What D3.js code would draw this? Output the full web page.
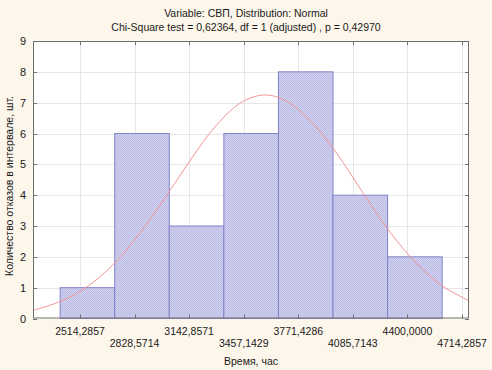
<!DOCTYPE html>
<html>
<head>
<meta charset="utf-8">
<script src="https://cdn.jsdelivr.net/npm/d3@7"></script>
<style>
  body { margin: 0; background: #fdf6ea; }
  text { font-family: "Liberation Sans", Arial, sans-serif; fill: #1a1a1a; }
</style>
</head>
<body>
<div id="chart"></div>
<script>
// Histogram data: lower bin edges and counts
var binLower = [2400, 2714.2857, 3028.5714, 3342.8571, 3657.1429, 3971.4286, 4285.7143];
var binWidth = 314.2857;
var counts = [1, 6, 3, 6, 8, 4, 2];

// x tick values and labels
var xTicks = [2514.2857, 2828.5714, 3142.8571, 3457.1429, 3771.4286, 4085.7143, 4400.0, 4714.2857];
var xTickLabels = ["2514,2857", "2828,5714", "3142,8571", "3457,1429", "3771,4286", "4085,7143", "4400,0000", "4714,2857"];
var yTicks = [0, 1, 2, 3, 4, 5, 6, 7, 8, 9];

// expected normal curve
var curveX = [2240, 2400, 2550, 2700, 2850, 3000, 3150, 3300, 3450, 3580, 3700, 3850, 4000, 4150, 4300, 4450, 4600, 4760];
var curveY = [0.26, 0.55, 1.01, 1.72, 2.70, 3.88, 5.14, 6.27, 7.03, 7.25, 7.06, 6.36, 5.30, 4.02, 2.80, 1.80, 1.06, 0.56];

var w = 492;
var h = 370;
var pLeft = 33, pRight = 469, pTop = 41, pBottom = 318.5;

var svg = d3.select("#chart").append("svg").attr("width", w).attr("height", h);

svg.append("rect").attr("width", w).attr("height", h).attr("fill", "#fdf6ea");

var defs = svg.append("defs");
var pat = defs.append("pattern")
  .attr("id", "hatch")
  .attr("patternUnits", "userSpaceOnUse")
  .attr("width", 2)
  .attr("height", 2);
pat.append("rect").attr("width", 2).attr("height", 2).attr("fill", "#d0d0ef");
pat.append("rect").attr("width", 1).attr("height", 1).attr("fill", "#bcbce4");
pat.append("rect").attr("x", 1).attr("y", 1).attr("width", 1).attr("height", 1).attr("fill", "#bcbce4");

defs.append("clipPath").attr("id", "clip")
  .append("rect").attr("x", pLeft).attr("y", pTop)
  .attr("width", pRight - pLeft).attr("height", pBottom - pTop);

var xScale = d3.scaleLinear()
  .domain([2514.2857 - 47 * 2200 / 382, 4714.2857 + 7 * 2200 / 382])
  .range([pLeft, pRight]);

var yScale = d3.scaleLinear().domain([0, 9]).range([pBottom, pTop]);

// plot background
svg.append("rect")
  .attr("x", pLeft).attr("y", pTop)
  .attr("width", pRight - pLeft).attr("height", pBottom - pTop)
  .attr("fill", "#ffffff");

// gridlines
svg.append("g").selectAll("line").data(yTicks.slice(1, -1)).enter().append("line")
  .attr("x1", pLeft).attr("x2", pRight)
  .attr("y1", function (d) { return Math.round(yScale(d)) + 0.5; })
  .attr("y2", function (d) { return Math.round(yScale(d)) + 0.5; })
  .attr("stroke", "#e6e6e6");

svg.append("g").selectAll("line").data(xTicks).enter().append("line")
  .attr("x1", function (d) { return Math.round(xScale(d)) + 0.5; })
  .attr("x2", function (d) { return Math.round(xScale(d)) + 0.5; })
  .attr("y1", pTop).attr("y2", pBottom)
  .attr("stroke", "#e6e6e6");

// bars
svg.append("g").selectAll("rect").data(counts).enter().append("rect")
  .attr("x", function (d, i) { return xScale(binLower[i]); })
  .attr("y", function (d) { return yScale(d); })
  .attr("width", function (d, i) { return xScale(binLower[i] + binWidth) - xScale(binLower[i]); })
  .attr("height", function (d) { return pBottom - yScale(d); })
  .attr("fill", "url(#hatch)")
  .attr("stroke", "#8282c8")
  .attr("stroke-width", 1);

// normal curve
var line = d3.line()
  .x(function (d, i) { return xScale(curveX[i]); })
  .y(function (d) { return yScale(d); })
  .curve(d3.curveCatmullRom);

svg.append("path")
  .datum(curveY)
  .attr("clip-path", "url(#clip)")
  .attr("d", line)
  .attr("fill", "none")
  .attr("stroke", "#f39494")
  .attr("stroke-width", 1);

// frame
svg.append("rect")
  .attr("x", pLeft + 0.5).attr("y", pTop + 0.5)
  .attr("width", pRight - pLeft - 1).attr("height", pBottom - pTop - 1)
  .attr("fill", "none")
  .attr("stroke", "#707070");

// inner ticks
var tick = svg.append("g").attr("stroke", "#707070");
yTicks.forEach(function (d) {
  var y = Math.round(yScale(d)) + 0.5;
  tick.append("line").attr("x1", pLeft).attr("x2", pLeft + 4).attr("y1", y).attr("y2", y);
  tick.append("line").attr("x1", pRight - 4).attr("x2", pRight).attr("y1", y).attr("y2", y);
});
xTicks.forEach(function (d) {
  var x = Math.round(xScale(d)) + 0.5;
  tick.append("line").attr("x1", x).attr("x2", x).attr("y1", pTop).attr("y2", pTop + 4);
  tick.append("line").attr("x1", x).attr("x2", x).attr("y1", pBottom - 4).attr("y2", pBottom);
});

// y tick labels
svg.append("g").selectAll("text").data(yTicks).enter().append("text")
  .attr("x", pLeft - 7)
  .attr("y", function (d) { return yScale(d) + 4; })
  .attr("text-anchor", "end")
  .style("font-size", "11px")
  .text(function (d) { return d; });

// x tick labels, staggered
svg.append("g").selectAll("text").data(xTicks).enter().append("text")
  .attr("x", function (d) { return xScale(d); })
  .attr("y", function (d, i) { return i % 2 === 0 ? 335 : 347; })
  .attr("text-anchor", "middle")
  .style("font-size", "10.5px")
  .text(function (d, i) { return xTickLabels[i]; });

// axis titles
svg.append("text")
  .attr("x", (pLeft + pRight) / 2)
  .attr("y", 365)
  .attr("text-anchor", "middle")
  .style("font-size", "10.5px")
  .text("Время, час");

svg.append("text")
  .attr("transform", "translate(13," + 186 + ") rotate(-90)")
  .attr("text-anchor", "middle")
  .style("font-size", "10.5px")
  .text("Количество отказов в интервале, шт.");

// title
svg.append("text")
  .attr("x", 246).attr("y", 17)
  .attr("text-anchor", "middle")
  .style("font-size", "10.5px")
  .text("Variable: СВП, Distribution: Normal");

svg.append("text")
  .attr("x", 246).attr("y", 31)
  .attr("text-anchor", "middle")
  .style("font-size", "10.5px")
  .text("Chi-Square test = 0,62364, df = 1 (adjusted) , p = 0,42970");
</script>
</body>
</html>
